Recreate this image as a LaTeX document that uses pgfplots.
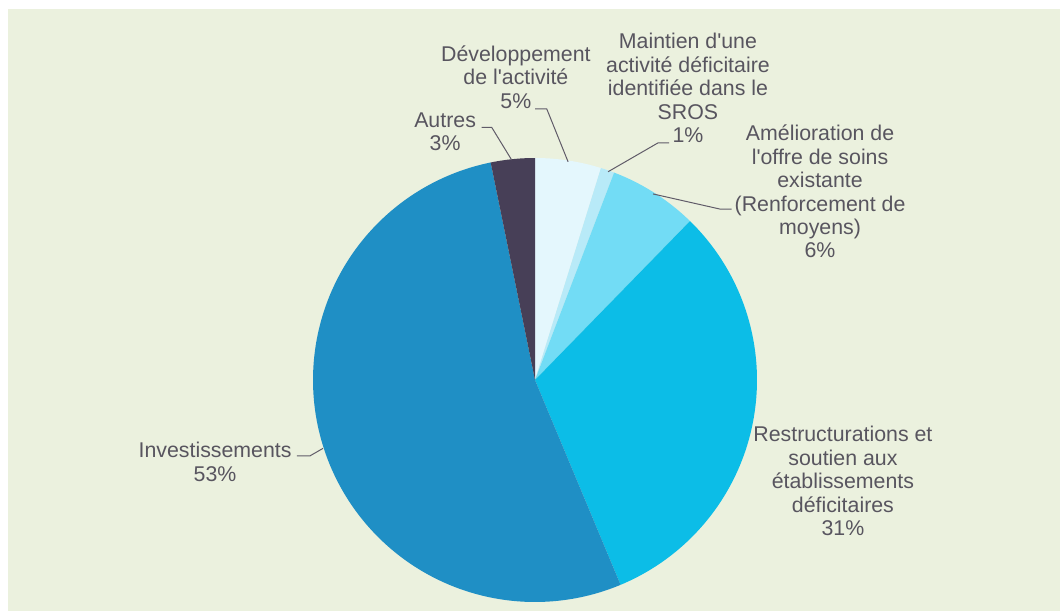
\documentclass[border=0pt]{standalone}
\usepackage{pgfplots}
\pgfplotsset{compat=1.18}
\usepackage{fontspec}
\setmainfont{Liberation Sans}[Ligatures=TeXOff]
\definecolor{bg}{HTML}{EBF1DE}
\definecolor{txt}{HTML}{58555F}
\definecolor{lead}{HTML}{605B68}
\definecolor{cDev}{HTML}{E4F7FD}
\definecolor{cMai}{HTML}{B8EAF8}
\definecolor{cAme}{HTML}{72DCF5}
\definecolor{cRes}{HTML}{0CBDE7}
\definecolor{cInv}{HTML}{1F8FC5}
\definecolor{cAut}{HTML}{473F57}
\tikzset{lbl/.style={align=center, text=txt, font=\fontsize{16}{17.6}\selectfont, inner sep=0pt}}
% shares in percent, clockwise from 12 o'clock
\def\vDev{4.8}
\def\vMai{1.0}
\def\vAme{6.5}
\def\vRes{31.4}
\def\vInv{53.1}
\def\vAut{3.2}
\pgfmathsetmacro\aA{90}
\pgfmathsetmacro\aB{\aA-3.6*\vDev}
\pgfmathsetmacro\aC{\aB-3.6*\vMai}
\pgfmathsetmacro\aD{\aC-3.6*\vAme}
\pgfmathsetmacro\aE{\aD-3.6*\vRes}
\pgfmathsetmacro\aF{\aE-3.6*\vInv}
\pgfmathsetmacro\aG{\aF-3.6*\vAut}
\begin{document}
\begin{tikzpicture}
\fill[white] (0,0) rectangle (795pt,458.25pt);
\fill[bg] (6pt,0) rectangle (795pt,451.5pt);
\begin{axis}[
  hide axis, scale only axis, width=333pt, height=333pt,
  xmin=-1, xmax=1, ymin=-1, ymax=1, clip=false,
  at={(401.25pt,173.25pt)}, anchor=center,
]
\addplot[fill=cDev, draw=none, domain=\aB:\aA, samples=40] ({cos(x)},{sin(x)}) -- (axis cs:0,0) -- cycle;
\addplot[fill=cMai, draw=none, domain=\aC:\aB, samples=20] ({cos(x)},{sin(x)}) -- (axis cs:0,0) -- cycle;
\addplot[fill=cAme, draw=none, domain=\aD:\aC, samples=40] ({cos(x)},{sin(x)}) -- (axis cs:0,0) -- cycle;
\addplot[fill=cRes, draw=none, domain=\aE:\aD, samples=120] ({cos(x)},{sin(x)}) -- (axis cs:0,0) -- cycle;
\addplot[fill=cInv, draw=none, domain=\aF:\aE, samples=180] ({cos(x)},{sin(x)}) -- (axis cs:0,0) -- cycle;
\addplot[fill=cAut, draw=none, domain=\aG:\aF, samples=30] ({cos(x)},{sin(x)}) -- (axis cs:0,0) -- cycle;
% leader lines
\draw[lead, line width=0.75pt] (axis cs:-0.240,1.138) -- (axis cs:-0.195,1.138) -- (axis cs:-0.105,0.991);
\draw[lead, line width=0.75pt] (axis cs:0,1.221) -- (axis cs:0.053,1.221) -- (axis cs:0.149,0.983);
\draw[lead, line width=0.75pt] (axis cs:0.604,1.068) -- (axis cs:0.554,1.068) -- (axis cs:0.329,0.938);
\draw[lead, line width=0.75pt] (axis cs:0.886,0.770) -- (axis cs:0.833,0.770) -- (axis cs:0.532,0.838);
\draw[lead, line width=0.75pt] (axis cs:-1.073,-0.342) -- (axis cs:-1.014,-0.342) -- (axis cs:-0.955,-0.308);
% labels
\node[lbl] at (axis cs:-0.086,1.365) {Développement\\de l'activité\\5\%};
\node[lbl] at (axis cs:0.689,1.315) {Maintien d'une\\activité déficitaire\\identifiée dans le\\SROS\\1\%};
\node[lbl] at (axis cs:1.284,0.849) {Amélioration de\\l'offre de soins\\existante\\(Renforcement de\\moyens)\\6\%};
\node[lbl] at (axis cs:1.387,-0.455) {Restructurations et\\soutien aux\\établissements\\déficitaires\\31\%};
\node[lbl] at (axis cs:-1.441,-0.369) {Investissements\\53\%};
\node[lbl] at (axis cs:-0.405,1.117) {Autres\\3\%};
\end{axis}
\end{tikzpicture}
\end{document}
